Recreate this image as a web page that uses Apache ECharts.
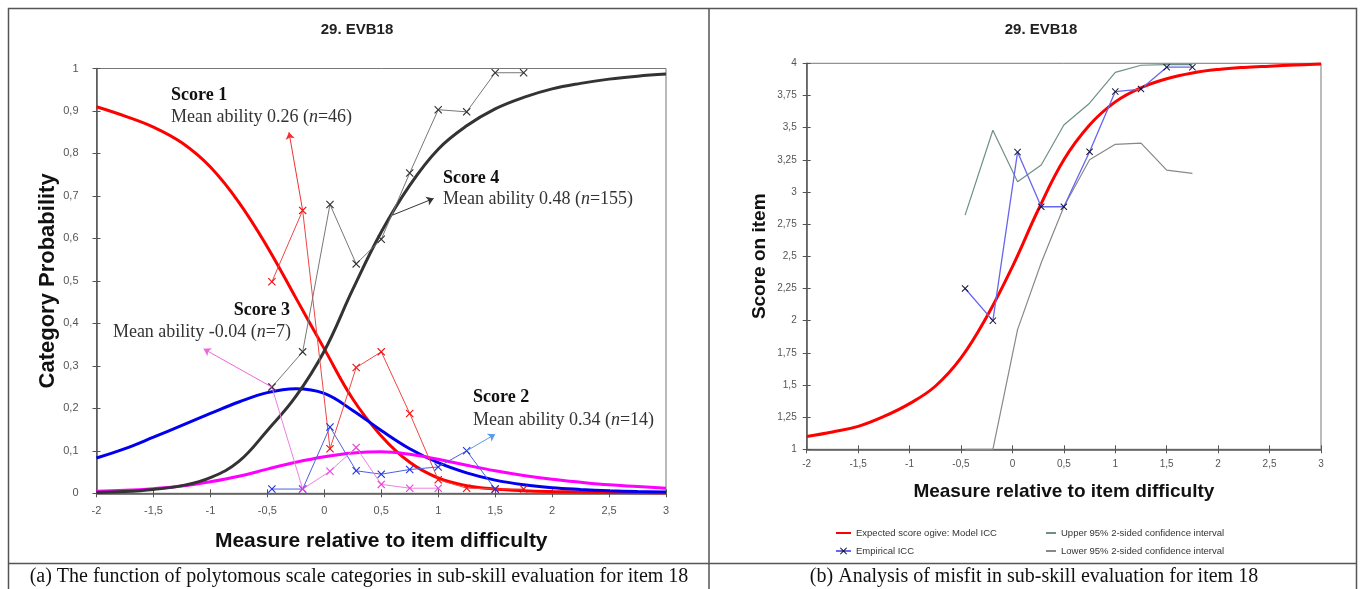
<!DOCTYPE html>
<html><head><meta charset="utf-8">
<script src="https://cdn.jsdelivr.net/npm/echarts@6/dist/echarts.min.js"></script>
<style>html,body{margin:0;padding:0;background:#fff}#c{width:1362px;height:589px}</style>
</head><body><div id="c"></div>
<script>
// ---------- data ----------
const modelX = [-2,-1.75,-1.5,-1.25,-1,-0.75,-0.5,-0.25,0,0.25,0.5,0.75,1,1.25,1.5,1.75,2,2.25,2.5,2.75,3];
const probScore1 = [0.91,0.888,0.862,0.825,0.768,0.685,0.58,0.46,0.34,0.222,0.135,0.073,0.036,0.018,0.01,0.006,0.004,0.003,0.002,0.0015,0.001];
const probScore2 = [0.083,0.105,0.132,0.16,0.188,0.215,0.237,0.246,0.235,0.195,0.148,0.105,0.072,0.048,0.031,0.02,0.013,0.009,0.006,0.004,0.003];
const probScore3 = [0.005,0.007,0.011,0.017,0.027,0.04,0.057,0.073,0.086,0.095,0.098,0.092,0.08,0.066,0.053,0.042,0.033,0.026,0.02,0.016,0.012];
const probScore4 = [0.002,0.004,0.009,0.018,0.037,0.075,0.148,0.228,0.335,0.48,0.615,0.725,0.81,0.865,0.905,0.932,0.952,0.965,0.975,0.982,0.987];

const empX = [-0.46,-0.19,0.05,0.28,0.5,0.75,1.0,1.25,1.5,1.75];
const empScore1 = [0.498,0.666,0.105,0.296,0.333,0.188,0.032,0.012,0.01,0.01];
const empScore2 = [0.01,0.01,0.156,0.053,0.045,0.056,0.062,0.1,0.01];
const empScore3 = [0.25,0.01,0.052,0.108,0.021,0.012,0.012];
const empScore4 = [0.25,0.333,0.68,0.54,0.598,0.754,0.903,0.898,0.99,0.99];

const modelICC = [1.1,1.135,1.178,1.255,1.355,1.49,1.71,2.03,2.42,2.86,3.25,3.52,3.7,3.81,3.88,3.925,3.952,3.968,3.978,3.987,3.994];
const empiricalICC = [2.25,2.0,3.31,2.885,2.885,3.313,3.78,3.8,3.97,3.97];
const upperCI = [2.82,3.48,3.08,3.21,3.52,3.69,3.93,3.985,3.99,3.99];
const lowerCI = [1.0,1.0,1.93,2.45,2.885,3.25,3.37,3.38,3.17,3.145];

// annotation arrows: [from, to]
const arrowScore1 = [[-0.19,0.666],[-0.31,0.85]];
const arrowScore2 = [[1.25,0.1],[1.5,0.139]];
const arrowScore3 = [[-0.46,0.25],[-1.06,0.34]];
const arrowScore4 = [[0.6,0.655],[0.96,0.694]];

const titleText = '29. EVB18';
const captionA = '(a) The function of polytomous scale categories in sub-skill evaluation for item 18';
const captionB = '(b) Analysis of misfit in sub-skill evaluation for item 18';

// ---------- helpers ----------
const zip = (xs, ys) => ys.map((y, i) => [xs[i], y]);
const cross = 'path://M1,0L5,4L9,0L10,1L6,5L10,9L9,10L5,6L1,10L0,9L4,5L0,1Z';
const fmt = v => String(+v.toFixed(2)).replace('.', ',');
const sans = '"Liberation Sans", Arial, sans-serif';
const serif = '"Liberation Serif", "Times New Roman", serif';
const arrowLine = (pts, color) => ({
  silent: true, symbol: ['none', 'arrow'], symbolSize: 7, animation: false,
  lineStyle: { color: color, width: 1, type: 'solid' },
  itemStyle: { color: color },
  label: { show: false },
  data: [[{ coord: pts[0] }, { coord: pts[1] }]]
});

function xAx(g, name, gap, nameSize, labSize, margin, inner) {
  return {
    type: 'value', gridIndex: g, min: -2, max: 3, interval: 0.5, position: 'bottom',
    name: inner ? '' : name, nameLocation: 'middle', nameGap: gap,
    nameTextStyle: { fontFamily: sans, fontWeight: 'bold', fontSize: nameSize, color: '#111' },
    axisLine: { show: !inner, onZero: false, lineStyle: { color: '#555', width: 1.5 } },
    axisTick: { show: true, inside: !!inner, length: 4, lineStyle: { color: '#555', width: 1 } },
    axisLabel: { show: !inner, fontFamily: sans, fontSize: labSize, color: '#555', margin: margin, formatter: fmt },
    splitLine: { show: false }
  };
}
function yAx(g, min, max, interval, name, gap, nameSize, labSize, margin, inner) {
  return {
    type: 'value', gridIndex: g, min: min, max: max, interval: interval, position: 'left',
    name: inner ? '' : name, nameLocation: 'middle', nameGap: gap, nameRotate: 90,
    nameTextStyle: { fontFamily: sans, fontWeight: 'bold', fontSize: nameSize, color: '#111' },
    axisLine: { show: !inner, onZero: false, lineStyle: { color: '#555', width: 1.5 } },
    axisTick: { show: true, inside: !!inner, length: 4, lineStyle: { color: '#555', width: 1 } },
    axisLabel: { show: !inner, fontFamily: sans, fontSize: labSize, color: '#555', margin: margin, formatter: fmt },
    splitLine: { show: false }
  };
}
function txt(x, y, text, opts) {
  const size = (opts && opts.fontSize) || 18;
  return {
    type: 'text', x: x, y: y, silent: true,
    style: Object.assign({
      text: text, fontFamily: serif, fontSize: size, fill: '#333',
      align: 'left', verticalAlign: 'middle',
      rich: {
        i: { fontFamily: serif, fontSize: size, fontStyle: 'italic', fill: '#333' }
      }
    }, opts || {})
  };
}

const chart = echarts.init(document.getElementById('c'), null, { renderer: 'canvas' });
chart.setOption({
  animation: false,
  backgroundColor: '#fff',
  title: [
    { text: titleText, left: 352, top: 17, textAlign: 'center',
      textStyle: { fontFamily: sans, fontWeight: 'bold', fontSize: 15, color: '#222' } },
    { text: titleText, left: 1036, top: 17, textAlign: 'center',
      textStyle: { fontFamily: sans, fontWeight: 'bold', fontSize: 15, color: '#222' } }
  ],
  grid: [
    { left: 96.5, right: 696, top: 68.5, bottom: 95.7, show: true, borderColor: '#777', borderWidth: 1, backgroundColor: 'transparent' },
    { left: 806.7, right: 41, top: 63.3, bottom: 139.7, show: true, borderColor: '#777', borderWidth: 1, backgroundColor: 'transparent' }
  ],
  xAxis: [
    xAx(0, 'Measure relative to item difficulty', 37, 21, 11, 12, false),
    xAx(0, '', 0, 0, 11, 0, true),
    xAx(1, 'Measure relative to item difficulty', 33, 19, 10, 10, false),
    xAx(1, '', 0, 0, 10, 0, true)
  ],
  yAxis: [
    yAx(0, 0, 1, 0.1, 'Category Probability', 33, 22, 11, 18, false),
    yAx(0, 0, 1, 0.1, '', 0, 0, 11, 0, true),
    yAx(1, 1, 4, 0.25, 'Score on item', 37, 19, 10, 10, false),
    yAx(1, 1, 4, 0.25, '', 0, 0, 10, 0, true)
  ],
  legend: [
    { left: 835, top: 528, padding: 0, orient: 'vertical', itemWidth: 15, itemHeight: 9, itemGap: 8,
      textStyle: { fontFamily: sans, fontSize: 9.5, color: '#333' }, selectedMode: false,
      data: [
        { name: 'Expected score ogive: Model ICC', itemStyle: { opacity: 0 } },
        { name: 'Empirical ICC' }
      ] },
    { left: 1045, top: 528, padding: 0, orient: 'vertical', itemWidth: 10, itemHeight: 9, itemGap: 8,
      textStyle: { fontFamily: sans, fontSize: 9.5, color: '#333' }, selectedMode: false,
      data: [
        { name: 'Upper 95% 2-sided confidence interval', itemStyle: { opacity: 0 } },
        { name: 'Lower 95% 2-sided confidence interval', itemStyle: { opacity: 0 } }
      ] }
  ],
  series: [
    // left chart: model curves
    { name: 'Score 1 model', type: 'line', xAxisIndex: 0, yAxisIndex: 0, data: zip(modelX, probScore1),
      smooth: 0.4, symbol: 'none', lineStyle: { color: '#ff0000', width: 3 }, z: 3 },
    { name: 'Score 2 model', type: 'line', xAxisIndex: 0, yAxisIndex: 0, data: zip(modelX, probScore2),
      smooth: 0.4, symbol: 'none', lineStyle: { color: '#0000ee', width: 3 }, z: 3 },
    { name: 'Score 3 model', type: 'line', xAxisIndex: 0, yAxisIndex: 0, data: zip(modelX, probScore3),
      smooth: 0.4, symbol: 'none', lineStyle: { color: '#ff00ff', width: 3 }, z: 3 },
    { name: 'Score 4 model', type: 'line', xAxisIndex: 0, yAxisIndex: 0, data: zip(modelX, probScore4),
      smooth: 0.4, symbol: 'none', lineStyle: { color: '#333333', width: 3 }, z: 3,
      markLine: arrowLine(arrowScore4, '#333') },
    // left chart: empirical
    { name: 'Score 1 empirical', type: 'line', xAxisIndex: 0, yAxisIndex: 0, data: zip(empX, empScore1),
      symbol: cross, symbolSize: 8, lineStyle: { color: '#f04545', width: 1 }, itemStyle: { color: '#ee1111' }, z: 4,
      markLine: arrowLine(arrowScore1, '#f03030') },
    { name: 'Score 2 empirical', type: 'line', xAxisIndex: 0, yAxisIndex: 0, data: zip(empX, empScore2),
      symbol: cross, symbolSize: 8, lineStyle: { color: '#4a62e0', width: 1 }, itemStyle: { color: '#2233dd' }, z: 4,
      markLine: arrowLine(arrowScore2, '#5a9ae8') },
    { name: 'Score 3 empirical', type: 'line', xAxisIndex: 0, yAxisIndex: 0, data: zip(empX, empScore3),
      symbol: cross, symbolSize: 8, lineStyle: { color: '#ee80e0', width: 1 }, itemStyle: { color: '#ee44dd' }, z: 4,
      markLine: arrowLine(arrowScore3, '#ee66dd') },
    { name: 'Score 4 empirical', type: 'line', xAxisIndex: 0, yAxisIndex: 0, data: zip(empX, empScore4),
      symbol: cross, symbolSize: 8, lineStyle: { color: '#777777', width: 1 }, itemStyle: { color: '#333333' }, z: 4 },
    // right chart
    { name: 'Upper 95% 2-sided confidence interval', type: 'line', xAxisIndex: 2, yAxisIndex: 2,
      data: zip(empX, upperCI), symbol: 'none', lineStyle: { color: '#6f8f86', width: 1.2 }, itemStyle: { color: '#6f8f86' } },
    { name: 'Lower 95% 2-sided confidence interval', type: 'line', xAxisIndex: 2, yAxisIndex: 2,
      data: zip(empX, lowerCI), symbol: 'none', lineStyle: { color: '#888888', width: 1.2 }, itemStyle: { color: '#888888' } },
    { name: 'Expected score ogive: Model ICC', type: 'line', xAxisIndex: 2, yAxisIndex: 2,
      data: zip(modelX, modelICC), smooth: 0.4, symbol: 'none', lineStyle: { color: '#ff0000', width: 3 }, itemStyle: { color: '#ff0000' } },
    { name: 'Empirical ICC', type: 'line', xAxisIndex: 2, yAxisIndex: 2,
      data: zip(empX, empiricalICC), symbol: cross, symbolSize: 7, showAllSymbol: true,
      lineStyle: { color: '#6666ee', width: 1.3 }, itemStyle: { color: '#111133' }, z: 5 }
  ],
  graphic: [
    { type: 'rect', silent: true, shape: { x: 8.5, y: 8.5, width: 1348, height: 600 },
      style: { fill: 'none', stroke: '#555', lineWidth: 1.5 } },
    { type: 'line', silent: true, shape: { x1: 709, y1: 8, x2: 709, y2: 589 },
      style: { stroke: '#555', lineWidth: 1.5 } },
    { type: 'line', silent: true, shape: { x1: 8, y1: 563.5, x2: 1356, y2: 563.5 },
      style: { stroke: '#555', lineWidth: 1.5 } },
    txt(359, 577, captionA, { fontSize: 20, fill: '#111', align: 'center' }),
    txt(1034, 577, captionB, { fontSize: 20, fill: '#111', align: 'center' }),
    txt(171, 95, 'Score 1', { fontWeight: 'bold', fill: '#111' }),
    txt(171, 117, 'Mean ability 0.26 ({i|n}=46)'),
    txt(443, 178, 'Score 4', { fontWeight: 'bold', fill: '#111' }),
    txt(443, 199, 'Mean ability 0.48 ({i|n}=155)'),
    txt(290, 310, 'Score 3', { fontWeight: 'bold', fill: '#111', align: 'right' }),
    txt(291, 332, 'Mean ability -0.04 ({i|n}=7)', { align: 'right' }),
    txt(473, 397, 'Score 2', { fontWeight: 'bold', fill: '#111' }),
    txt(473, 420, 'Mean ability 0.34 ({i|n}=14)')
  ]
});
</script>
</body></html>
